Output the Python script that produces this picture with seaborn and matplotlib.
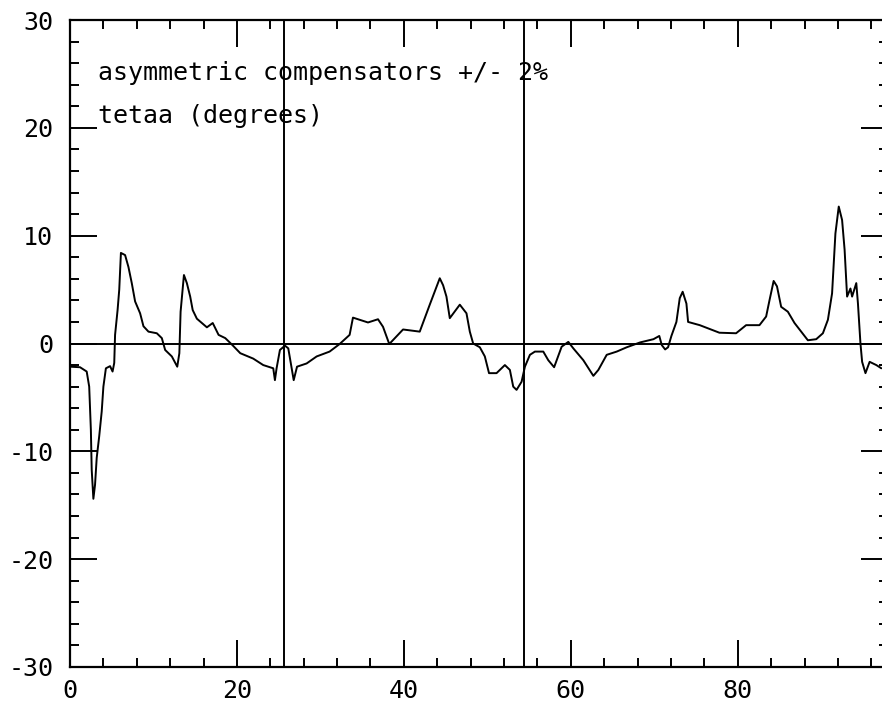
import matplotlib
matplotlib.use("Agg")
import matplotlib.pyplot as plt
from matplotlib.ticker import MultipleLocator
import seaborn as sns
import pandas as pd

# position along the line (m) and angle tetaa (degrees)
position = [0, 1.2, 2.0, 2.3, 2.5, 2.6, 2.8, 3.0, 3.2, 3.5, 3.8, 4.0, 4.3, 4.8, 5.1,
            5.3, 5.4, 5.7, 5.9, 6.1, 6.6, 7.0, 7.4, 7.8, 8.4, 8.8, 9.4, 10.4, 11.0,
            11.4, 12.2, 12.85, 13.1, 13.25, 13.65, 14.0, 14.4, 14.7, 15.2, 16.4, 17.1,
            17.8, 18.6, 19.4, 20.4, 21.95, 23.15, 24.35, 24.55, 24.75, 25.15, 25.75,
            26.15, 26.55, 26.8, 27.2, 28.35, 29.55, 31.1, 32.3, 33.5, 33.9, 34.7,
            35.7, 36.9, 37.5, 38.25, 39.9, 41.9, 43.1, 44.3, 44.7, 45.1, 45.5, 46.7,
            47.5, 47.9, 48.3, 49.1, 49.7, 50.2, 51.1, 52.1, 52.7, 53.1, 53.5, 54.1,
            54.5, 55.1, 55.7, 56.7, 57.3, 58.0, 58.9, 59.7, 60.3, 61.5, 62.7, 63.3,
            64.3, 65.5, 66.7, 68.3, 69.9, 70.6, 70.9, 71.3, 71.65, 72.05, 72.65,
            73.05, 73.4, 73.85, 74.05, 75.45, 77.8, 79.8, 81.0, 82.6, 83.4, 83.8,
            84.3, 84.7, 85.2, 86.0, 86.8, 87.6, 88.4, 89.4, 90.2, 90.8, 91.3, 91.7,
            92.1, 92.5, 92.8, 93.1, 93.5, 93.7, 94.2, 94.4, 94.7, 94.9, 95.3, 95.8,
            96.6, 97.2]
tetaa = [-2.15, -2.2, -2.6, -4.0, -8.0, -11.7, -14.4, -13.1, -10.6, -8.6, -6.3, -4.0,
         -2.3, -2.1, -2.6, -1.8, 0.8, 3.1, 5.0, 8.4, 8.2, 7.1, 5.6, 3.9, 2.8, 1.6,
         1.1, 0.95, 0.5, -0.6, -1.2, -2.15, -0.9, 2.95, 6.35, 5.6, 4.35, 3.1, 2.3,
         1.5, 1.9, 0.8, 0.5, -0.1, -0.9, -1.4, -2.0, -2.3, -3.4, -2.3, -0.6, -0.2,
         -0.45, -2.3, -3.4, -2.15, -1.85, -1.2, -0.75, -0.05, 0.8, 2.4, 2.2, 1.95,
         2.25, 1.55, -0.05, 1.3, 1.1, 3.6, 6.05, 5.4, 4.35, 2.35, 3.6, 2.8, 1.1,
         0.0, -0.35, -1.2, -2.75, -2.75, -2.0, -2.45, -4.0, -4.3, -3.55, -2.15,
         -1.05, -0.75, -0.75, -1.55, -2.2, -0.3, 0.15, -0.45, -1.55, -3.0, -2.45,
         -1.05, -0.75, -0.35, 0.1, 0.4, 0.7, -0.15, -0.55, -0.35, 0.7, 2.0, 4.2,
         4.8, 3.7, 2.0, 1.7, 1.0, 0.95, 1.7, 1.7, 2.5, 4.0, 5.8, 5.3, 3.4, 2.95,
         1.9, 1.1, 0.3, 0.4, 0.95, 2.2, 4.65, 10.2, 12.7, 11.45, 8.7, 4.35, 5.1,
         4.35, 5.6, 3.7, 0.0, -1.7, -2.75, -1.7, -2.0, -2.3]

marker_positions = [25.6, 54.4]
x_ticks = [0, 20, 40, 60, 80]
y_ticks = [-30, -20, -10, 0, 10, 20, 30]
title_lines = ["asymmetric compensators +/- 2%", "tetaa (degrees)"]

sns.set_style("ticks")
plt.rcParams["font.family"] = ["DejaVu Sans Mono"]
plt.rcParams["axes.unicode_minus"] = False
plt.rcParams["text.color"] = "black"

df = pd.DataFrame({"position": position, "tetaa": tetaa})

fig = plt.figure(figsize=(8.82, 7.06), dpi=100)
ax = fig.add_axes([70 / 882, 39 / 706, 818 / 882, 647 / 706])

sns.lineplot(data=df, x="position", y="tetaa", color="black", linewidth=1.4,
             estimator=None, sort=False, ax=ax)

for xm in marker_positions:
    ax.axvline(xm, color="black", linewidth=1.4)
ax.axhline(0, color="black", linewidth=1.4)

ax.set_xlim(0, 98)
ax.set_ylim(-30, 30)
ax.set_xticks(x_ticks)
ax.set_yticks(y_ticks)
ax.xaxis.set_minor_locator(MultipleLocator(4))
ax.yaxis.set_minor_locator(MultipleLocator(2))
ax.set_xlabel("")
ax.set_ylabel("")

for side in ["left", "bottom", "top"]:
    ax.spines[side].set_linewidth(1.6)
    ax.spines[side].set_color("black")
ax.spines["right"].set_visible(False)

ax.tick_params(which="both", direction="in", top=True, right=True,
               color="black", width=1.4, labelsize=18, labelcolor="black")
ax.tick_params(which="major", length=19.5)
ax.tick_params(which="minor", length=6.5)
ax.tick_params(axis="x", pad=9)
ax.tick_params(axis="y", pad=12)

ax.text(3.35, 24.45, title_lines[0], fontsize=18, color="black",
        ha="left", va="baseline")
ax.text(3.35, 20.45, title_lines[1], fontsize=18, color="black",
        ha="left", va="baseline")

fig.savefig("out.png", dpi=100)
